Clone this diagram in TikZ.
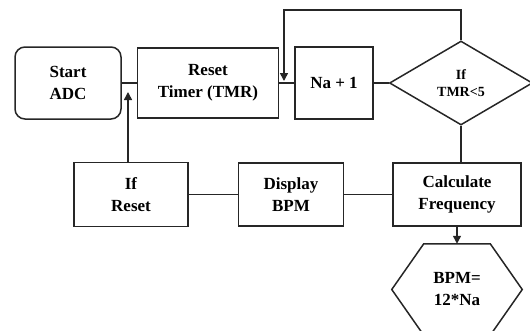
\documentclass[tikz,border=0pt]{standalone}
\usepackage{fontspec}
\setmainfont{Liberation Serif}
\usetikzlibrary{arrows.meta,positioning,shapes.geometric}

\begin{document}
\begin{tikzpicture}[x=1pt,y=-1pt,>={Triangle[length=8pt,width=8pt]},line width=1.5pt,
    font=\bfseries\fontsize{17}{22}\selectfont]
          \tikzstyle{box}=[draw=black!85,text=black,align=center,inner sep=2pt]
          \tikzstyle{line}=[draw=black!85]
          \useasboundingbox (0,0) rectangle (530,330);

          \node[box,rounded corners=10pt,minimum width=106pt,minimum height=72pt] (start) at (68,83) {Start\\ADC};
          \node[box,minimum width=141pt,minimum height=70pt] (reset) [right=15pt of start] {Reset\\Timer (TMR)};
          \node[box,minimum width=78pt,minimum height=72pt] (na) [right=15pt of reset] {Na + 1};
          \node[box,diamond,aspect=1.7,minimum width=143pt,minimum height=84pt,inner sep=0pt,
                font=\bfseries\fontsize{14}{17}\selectfont] (cond) [right=15pt of na] {If\\TMR<5};
          \node[box,minimum width=128pt,minimum height=63pt] (calc) at (457,194.5) {Calculate\\Frequency};
          \node[box,minimum width=105pt,minimum height=63pt] (display) [left=48pt of calc] {Display\\BPM};
          \node[box,minimum width=114pt,minimum height=64pt] (ifreset) [left=49pt of display] {If\\Reset};
          \node[box,draw=none,minimum width=129pt,minimum height=90pt] (bpm) [below=17pt of calc] {BPM=\\12*Na};
          \draw[line] ([xshift=32pt]bpm.north west) -- ([xshift=-32pt]bpm.north east) -- (bpm.east)
                -- ([xshift=-32pt]bpm.south east) -- ([xshift=32pt]bpm.south west) -- (bpm.west) -- cycle;

          \coordinate (j1) at (284,87);
          \coordinate (loop) at (284,10);
          \coordinate (j2) at (128,86);

          \path[line] (start) edge (reset)
                      (reset) edge (na)
                      (na) edge (cond)
                      (calc) edge (display)
                      (display) edge (ifreset);
          \draw[line] (cond.south) -- (cond.south |- calc.north);
          \draw[line,->,shorten >=6pt] (cond.north) |- (loop) -- (j1);
          \draw[line,->,shorten >=6pt] (j2 |- ifreset.north) -- (j2);
          \draw[line,->] (calc) -- (bpm);
        \end{tikzpicture}
\end{document}
